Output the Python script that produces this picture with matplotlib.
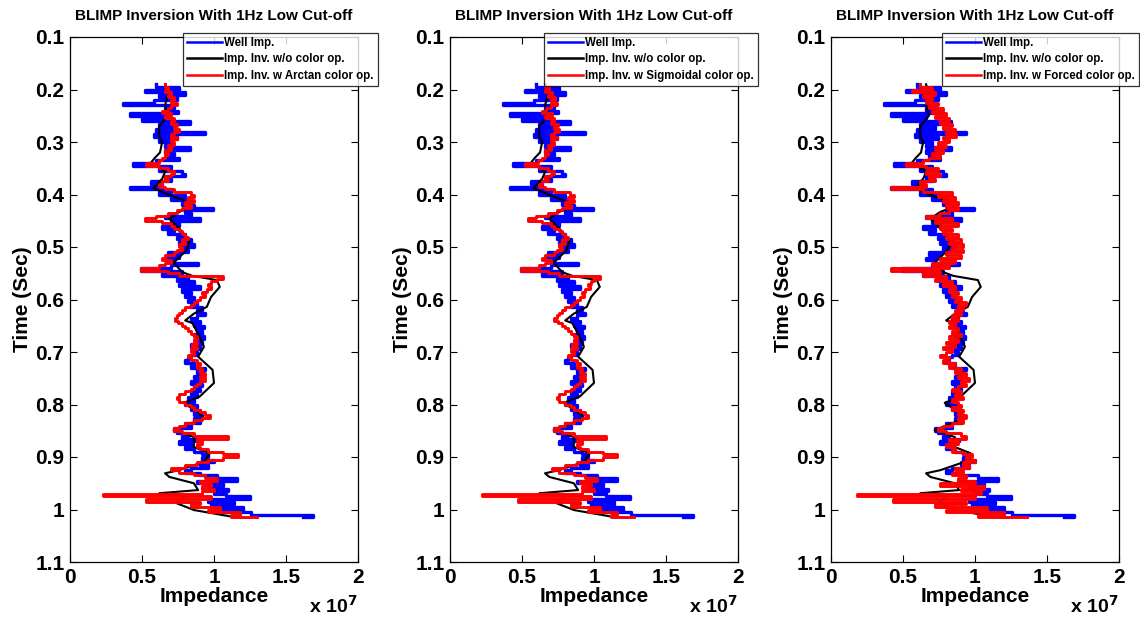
import numpy as np
import matplotlib
matplotlib.use('Agg')
import matplotlib.pyplot as plt

plt.rcParams['font.family'] = ['Liberation Sans', 'DejaVu Sans']
plt.rcParams['font.weight'] = 'bold'

# time samples of the logs (sec)
t_log = np.round(np.arange(0.19, 1.0151, 0.005), 3)

# well impedance (x 1e7)
well_imp = [
    0.60, 0.76, 0.52, 0.80, 0.62, 0.74, 0.58, 0.37, 0.72, 0.66,
    0.75, 0.42, 0.66, 0.50, 0.83, 0.62, 0.72, 0.60, 0.94, 0.58,
    0.74, 0.62, 0.70, 0.66, 0.83, 0.66, 0.72, 0.68, 0.76, 0.60,
    0.44, 0.70, 0.62, 0.78, 0.80, 0.66, 0.70, 0.56, 0.64, 0.42,
    0.70, 0.62, 0.80, 0.70, 0.82, 0.78, 0.86, 0.99, 0.80, 0.84,
    0.66, 0.90, 0.70, 0.76, 0.64, 0.72, 0.68, 0.80, 0.74, 0.84,
    0.76, 0.86, 0.78, 0.82, 0.68, 0.76, 0.66, 0.72, 0.89, 0.70,
    0.49, 0.78, 0.64, 0.82, 0.74, 0.86, 0.76, 0.90, 0.78, 0.84,
    0.80, 0.86, 0.82, 0.88, 0.84, 0.92, 0.88, 0.94, 0.88, 0.84,
    0.90, 0.86, 0.93, 0.88, 0.92, 0.86, 0.93, 0.88, 0.92, 0.84,
    0.90, 0.86, 0.88, 0.84, 0.82, 0.80, 0.86, 0.84, 0.94, 0.88,
    0.92, 0.86, 0.90, 0.84, 0.92, 0.86, 0.90, 0.84, 0.88, 0.82,
    0.86, 0.80, 0.88, 0.84, 0.90, 0.86, 0.92, 0.86, 0.90, 0.80,
    0.84, 0.72, 0.74, 0.82, 0.78, 0.89, 0.76, 0.84, 0.80, 0.86,
    0.92, 0.96, 0.92, 1.00, 0.90, 0.96, 0.84, 0.80, 0.90, 1.02,
    1.16, 0.88, 1.06, 0.96, 1.10, 1.00, 1.08, 1.25, 0.96, 1.14,
    0.98, 1.20, 1.06, 1.26, 1.69, 1.62,
]

# inversion without colour operator (same in all panels)
black_t = [0.19, 0.21, 0.23, 0.25, 0.27, 0.29, 0.30, 0.32, 0.33, 0.34,
           0.345, 0.357, 0.37, 0.388, 0.40, 0.41, 0.424, 0.433, 0.446, 0.465,
           0.487, 0.506, 0.53, 0.548, 0.555, 0.563, 0.576, 0.595, 0.614, 0.627,
           0.64, 0.645, 0.671, 0.69, 0.709, 0.734, 0.759, 0.785, 0.797, 0.817,
           0.826, 0.849, 0.862, 0.881, 0.893, 0.909, 0.925, 0.931, 0.938, 0.95,
           0.963, 0.969, 0.975, 0.988, 1.001, 1.014, 1.016]
black_imp = [0.66, 0.68, 0.66, 0.68, 0.62, 0.62, 0.64, 0.625, 0.59, 0.56,
             0.60, 0.66, 0.64, 0.58, 0.68, 0.78, 0.85, 0.76, 0.69, 0.76,
             0.83, 0.81, 0.72, 0.78, 0.85, 1.02, 1.04, 0.98, 0.95, 0.86,
             0.80, 0.85, 0.90, 0.93, 0.89, 0.99, 1.00, 0.90, 0.79, 0.90,
             0.93, 0.72, 0.86, 0.86, 0.97, 0.93, 0.76, 0.66, 0.69, 0.86,
             0.89, 0.62, 0.80, 0.74, 0.86, 1.13, 1.23]

red_arctan = [
    0.66, 0.68, 0.66, 0.70, 0.68, 0.72, 0.70, 0.74, 0.70, 0.68,
    0.64, 0.70, 0.66, 0.72, 0.70, 0.74, 0.72, 0.76, 0.72, 0.70,
    0.74, 0.70, 0.72, 0.68, 0.70, 0.66, 0.68, 0.66, 0.64, 0.62,
    0.53, 0.62, 0.68, 0.72, 0.70, 0.66, 0.68, 0.64, 0.62, 0.66,
    0.72, 0.84, 0.86, 0.82, 0.86, 0.80, 0.84, 0.78, 0.74, 0.68,
    0.60, 0.52, 0.64, 0.70, 0.72, 0.76, 0.78, 0.80, 0.82, 0.78,
    0.80, 0.76, 0.78, 0.74, 0.72, 0.66, 0.64, 0.70, 0.66, 0.62,
    0.49, 0.68, 0.76, 1.06, 1.02, 0.98, 0.96, 0.98, 0.95, 0.92,
    0.94, 0.90, 0.88, 0.86, 0.84, 0.80, 0.78, 0.76, 0.74, 0.73,
    0.75, 0.78, 0.80, 0.82, 0.84, 0.86, 0.88, 0.86, 0.88, 0.85,
    0.88, 0.84, 0.86, 0.82, 0.84, 0.88, 0.90, 0.88, 0.92, 0.90,
    0.94, 0.90, 0.94, 0.90, 0.88, 0.86, 0.84, 0.80, 0.76, 0.74,
    0.76, 0.80, 0.84, 0.86, 0.90, 0.94, 0.97, 0.92, 0.86, 0.80,
    0.76, 0.72, 0.78, 0.86, 1.10, 0.88, 0.92, 0.88, 0.90, 0.96,
    1.06, 1.17, 1.06, 0.96, 0.88, 0.80, 0.70, 0.76, 0.86, 0.94,
    1.02, 0.90, 0.98, 0.92, 1.00, 0.92, 0.23, 0.98, 0.53, 0.90,
    0.84, 1.04, 0.96, 1.18, 1.12, 1.30,
]

red_sigmoid = [
    0.66, 0.69, 0.66, 0.71, 0.68, 0.73, 0.70, 0.74, 0.70, 0.67,
    0.64, 0.71, 0.66, 0.72, 0.70, 0.75, 0.72, 0.76, 0.72, 0.70,
    0.74, 0.70, 0.72, 0.68, 0.70, 0.66, 0.68, 0.66, 0.64, 0.61,
    0.52, 0.62, 0.68, 0.72, 0.70, 0.66, 0.68, 0.64, 0.62, 0.66,
    0.72, 0.83, 0.86, 0.82, 0.86, 0.80, 0.84, 0.78, 0.74, 0.68,
    0.60, 0.54, 0.64, 0.70, 0.72, 0.76, 0.78, 0.80, 0.82, 0.78,
    0.80, 0.76, 0.78, 0.74, 0.72, 0.66, 0.64, 0.70, 0.66, 0.62,
    0.49, 0.68, 0.76, 1.04, 1.00, 0.98, 0.96, 0.97, 0.94, 0.92,
    0.93, 0.90, 0.88, 0.86, 0.84, 0.80, 0.78, 0.76, 0.74, 0.72,
    0.75, 0.78, 0.80, 0.82, 0.84, 0.86, 0.88, 0.86, 0.88, 0.85,
    0.88, 0.84, 0.86, 0.82, 0.84, 0.88, 0.90, 0.88, 0.92, 0.90,
    0.94, 0.90, 0.94, 0.90, 0.88, 0.86, 0.84, 0.80, 0.76, 0.74,
    0.76, 0.80, 0.84, 0.86, 0.90, 0.94, 0.96, 0.92, 0.86, 0.80,
    0.76, 0.72, 0.78, 0.86, 1.08, 0.88, 0.92, 0.88, 0.90, 0.96,
    1.06, 1.16, 1.06, 0.96, 0.88, 0.80, 0.71, 0.76, 0.86, 0.94,
    1.02, 0.90, 0.98, 0.92, 1.00, 0.92, 0.22, 0.98, 0.47, 0.90,
    0.84, 1.04, 0.96, 1.16, 1.12, 1.28,
]

red_forced = [
    0.62, 0.70, 0.56, 0.72, 0.64, 0.70, 0.66, 0.74, 0.68, 0.78,
    0.70, 0.80, 0.72, 0.82, 0.76, 0.84, 0.78, 0.86, 0.80, 0.87,
    0.78, 0.82, 0.74, 0.80, 0.72, 0.78, 0.70, 0.76, 0.68, 0.64,
    0.52, 0.66, 0.74, 0.66, 0.76, 0.68, 0.72, 0.62, 0.66, 0.42,
    0.64, 0.84, 0.74, 0.86, 0.78, 0.88, 0.80, 0.88, 0.82, 0.76,
    0.66, 0.84, 0.72, 0.88, 0.76, 0.84, 0.78, 0.88, 0.80, 0.90,
    0.82, 0.92, 0.84, 0.92, 0.80, 0.90, 0.76, 0.86, 0.70, 0.82,
    0.42, 0.76, 0.64, 0.80, 0.72, 0.84, 0.78, 0.86, 0.82, 0.88,
    0.84, 0.90, 0.86, 0.94, 0.88, 0.92, 0.86, 0.90, 0.84, 0.88,
    0.82, 0.86, 0.82, 0.88, 0.84, 0.90, 0.82, 0.88, 0.80, 0.86,
    0.78, 0.84, 0.80, 0.76, 0.82, 0.78, 0.86, 0.82, 0.90, 0.86,
    0.94, 0.88, 0.96, 0.90, 0.94, 0.88, 0.84, 0.90, 0.86, 0.92,
    0.84, 0.88, 0.90, 0.84, 0.92, 0.88, 0.94, 0.88, 0.92, 0.84,
    0.78, 0.74, 0.80, 0.90, 0.94, 0.82, 0.88, 0.80, 0.86, 0.84,
    0.92, 0.98, 0.94, 1.00, 0.92, 0.96, 0.86, 0.92, 0.84, 0.94,
    0.88, 1.00, 0.76, 1.06, 0.90, 1.04, 0.18, 1.00, 0.43, 0.94,
    0.72, 1.08, 0.80, 1.20, 1.02, 1.36,
]

panels = [
    ('Imp. Inv. w Arctan color op.', red_arctan),
    ('Imp. Inv. w Sigmoidal color op.', red_sigmoid),
    ('Imp. Inv. w Forced color op.', red_forced),
]
ax_left = [70, 450, 831]

y_ticks = [0.1, 0.2, 0.3, 0.4, 0.5, 0.6, 0.7, 0.8, 0.9, 1.0, 1.1]
y_labels = ['0.1', '0.2', '0.3', '0.4', '0.5', '0.6', '0.7', '0.8', '0.9', '1', '1.1']
x_ticks = [0, 0.5, 1, 1.5, 2]
x_labels = ['0', '0.5', '1', '1.5', '2']

W, H = 1140, 623
fig = plt.figure(figsize=(W / 100, H / 100), dpi=100)

for (red_label, red_imp), left in zip(panels, ax_left):
    ax = fig.add_axes([left / W, 1 - 562 / H, 288 / W, 525 / H])
    # blocky log look: horizontal jumps between time samples
    ax.plot(np.array(well_imp) * 1e7, t_log, color='#0000ff', lw=2.4,
            drawstyle='steps-pre', label='Well Imp.')
    ax.plot(np.array(black_imp) * 1e7, black_t, color='black', lw=1.5,
            label='Imp. Inv. w/o color op.')
    ax.plot(np.array(red_imp) * 1e7, t_log, color='#ff0000', lw=2.1,
            drawstyle='steps-pre', label=red_label)

    ax.set_xlim(0, 2e7)
    ax.set_ylim(1.1, 0.1)
    ax.set_xticks([v * 1e7 for v in x_ticks])
    ax.set_xticklabels(x_labels)
    ax.set_yticks(y_ticks)
    ax.set_yticklabels(y_labels)
    ax.tick_params(direction='in', top=True, right=True, length=5, width=0.8,
                   labelsize=15, pad=4)
    for lab in ax.get_xticklabels() + ax.get_yticklabels():
        lab.set_fontweight('bold')
    for sp in ax.spines.values():
        sp.set_linewidth(0.9)

    ax.set_title('BLIMP Inversion With 1Hz Low Cut-off', fontsize=11,
                 fontweight='bold', pad=12)
    ax.set_xlabel('Impedance', fontsize=15, fontweight='bold', labelpad=0)
    ax.set_ylabel('Time (Sec)', fontsize=15, fontweight='bold', labelpad=2)
    ax.text(0.83, -0.083, r'x 10$^{\mathbf{7}}$', transform=ax.transAxes,
            fontsize=14, fontweight='bold', ha='left', va='center')

    leg = ax.legend(loc='upper right', bbox_to_anchor=(1.069, 1.008),
                    prop={'weight': 'bold', 'size': 8.3}, frameon=True, fancybox=False,
                    edgecolor='black', borderpad=0.35, labelspacing=0.38,
                    handlelength=3.0, handletextpad=0.2, borderaxespad=0)
    leg.get_frame().set_linewidth(0.9)
    for ln in leg.get_lines():
        ln.set_linewidth(1.8)

fig.savefig('out.png', dpi=100, facecolor='white')
